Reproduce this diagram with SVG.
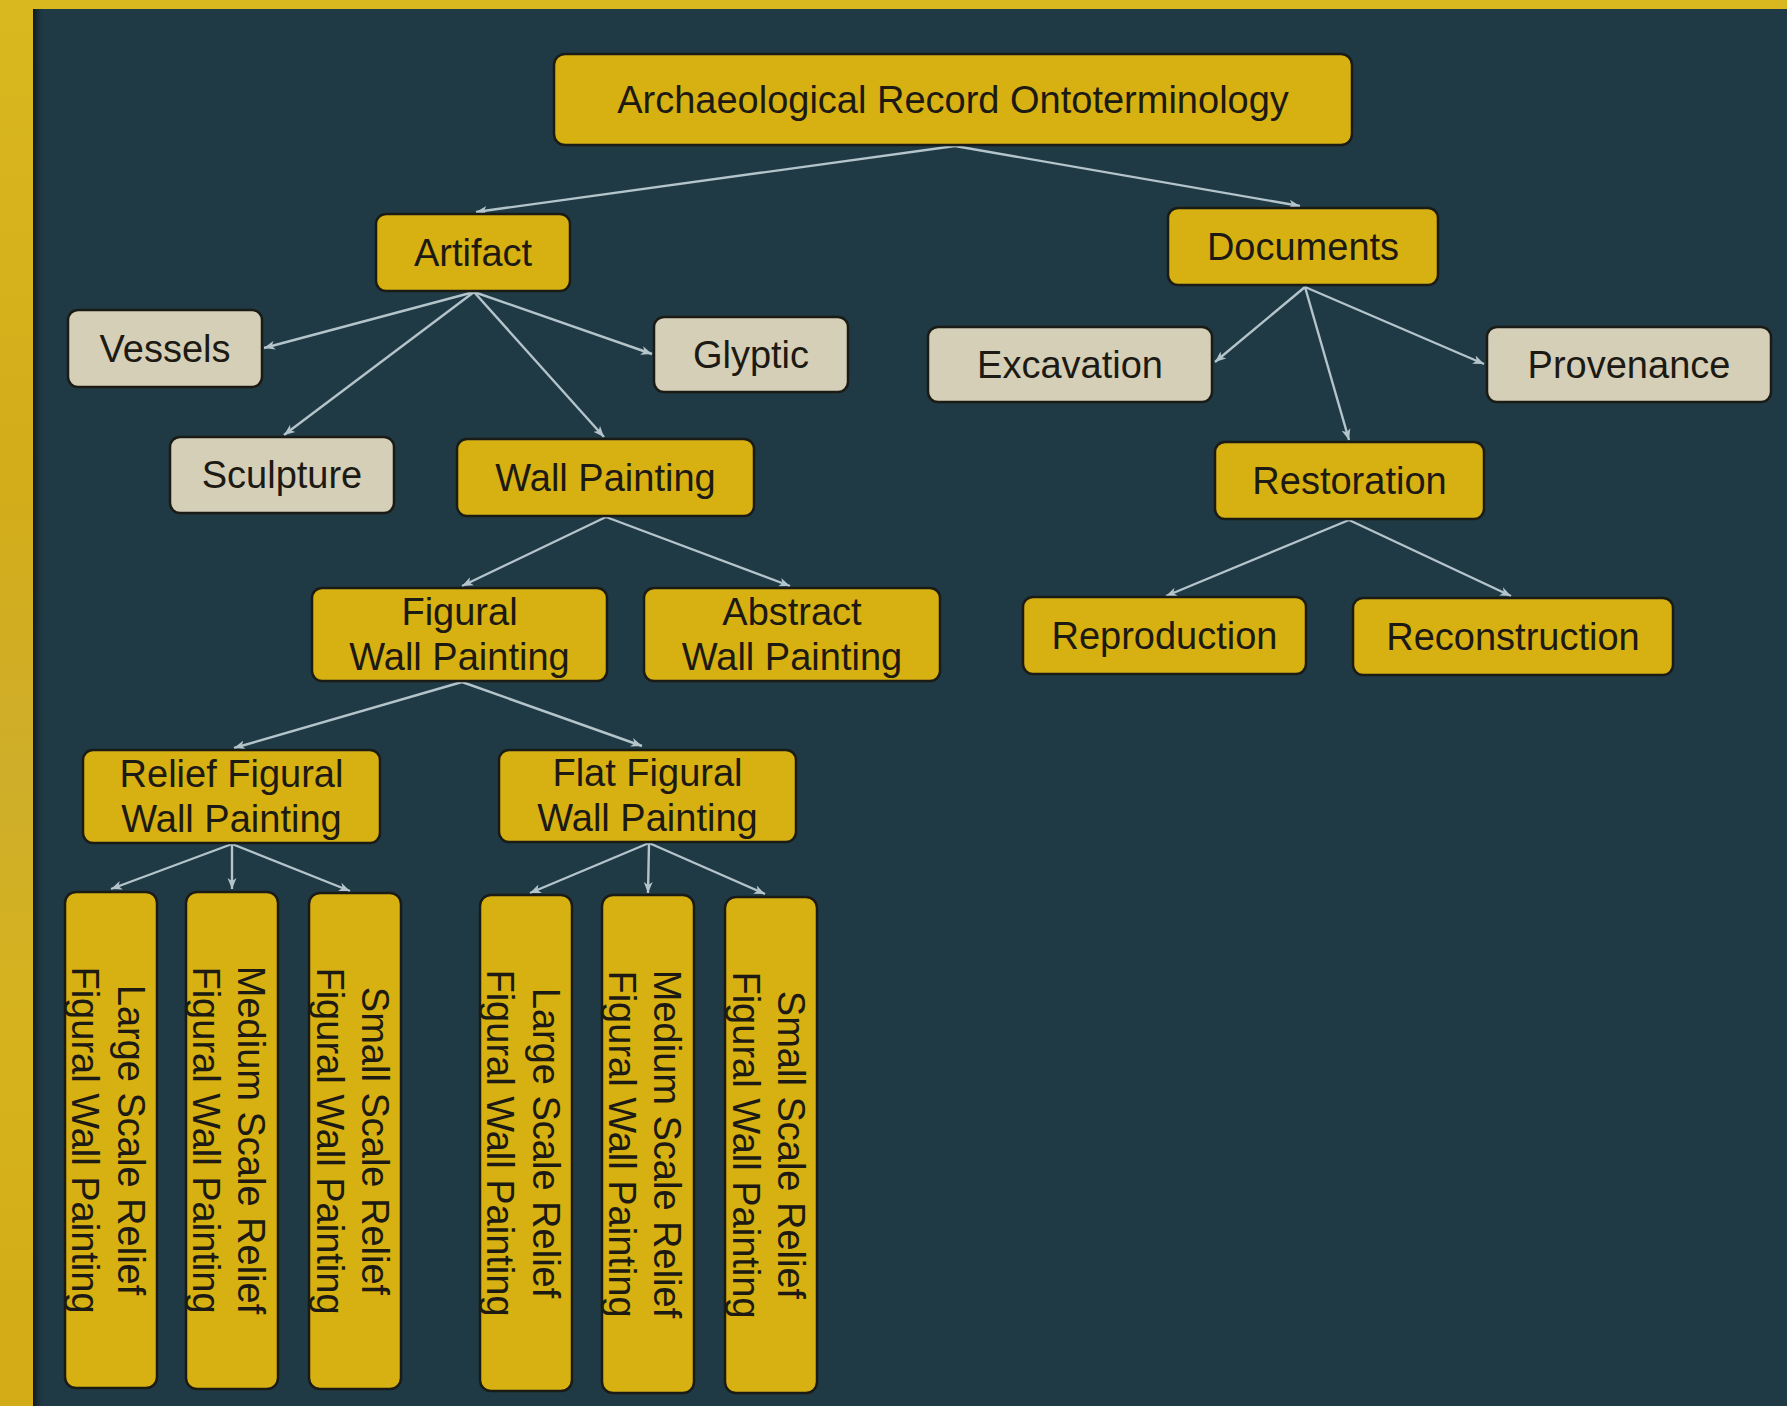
<svg xmlns="http://www.w3.org/2000/svg" width="1787" height="1406" viewBox="0 0 1787 1406">
<defs>
<style>
.n rect{stroke:#1b1b16;stroke-width:2.5}
.g rect{fill:#d7b012}
.b rect{fill:#d5cfb8}
text{font-family:"Liberation Sans",Arial,sans-serif;font-size:38px;fill:#1c1a12;text-anchor:middle}
#connectors line{stroke:#b4c4cb;stroke-width:2.4;marker-end:url(#ah)}
</style>
<linearGradient id="gold" x1="0" y1="0" x2="0" y2="1">
<stop offset="0" stop-color="#d9b81f"/>
<stop offset="0.35" stop-color="#d3ad1a"/>
<stop offset="0.55" stop-color="#cfae2a"/>
<stop offset="0.75" stop-color="#d6b31c"/>
<stop offset="1" stop-color="#d2ab16"/>
</linearGradient>
<linearGradient id="shade" x1="0" y1="0" x2="1" y2="0">
<stop offset="0" stop-color="#10181c"/>
<stop offset="1" stop-color="#1f3a45" stop-opacity="0"/>
</linearGradient>
<marker id="ah" markerUnits="userSpaceOnUse" markerWidth="12" markerHeight="10" refX="11" refY="5" orient="auto">
<path d="M0,0.5 L11,5 L0,9.5 L3,5 z" fill="#b4c4cb"/>
</marker>
</defs>
<rect x="0" y="0" width="1787" height="1406" fill="url(#gold)"/>
<rect x="33" y="9" width="1754" height="1397" fill="#1f3a45"/>
<rect x="33" y="9" width="12" height="1397" fill="url(#shade)"/>

<g id="connectors">
<line x1="955" y1="146" x2="476" y2="212"/>
<line x1="955" y1="146" x2="1300" y2="206"/>
<line x1="474" y1="292" x2="264" y2="348"/>
<line x1="474" y1="292" x2="284" y2="435"/>
<line x1="474" y1="292" x2="604" y2="437"/>
<line x1="474" y1="292" x2="652" y2="354"/>
<line x1="1305" y1="287" x2="1215" y2="362"/>
<line x1="1305" y1="287" x2="1349" y2="440"/>
<line x1="1305" y1="287" x2="1484" y2="364"/>
<line x1="606" y1="517" x2="462" y2="586"/>
<line x1="606" y1="517" x2="790" y2="586"/>
<line x1="1349" y1="520" x2="1166" y2="596"/>
<line x1="1349" y1="520" x2="1511" y2="596"/>
<line x1="462" y1="682" x2="234" y2="748"/>
<line x1="462" y1="682" x2="642" y2="746"/>
<line x1="232" y1="844" x2="111" y2="889"/>
<line x1="232" y1="844" x2="232" y2="889"/>
<line x1="232" y1="844" x2="350" y2="891"/>
<line x1="649" y1="843" x2="530" y2="893"/>
<line x1="649" y1="843" x2="648" y2="893"/>
<line x1="649" y1="843" x2="765" y2="894"/>
</g>

<g id="root" class="n g"><rect x="554" y="54" width="798" height="91" rx="11"/><text x="953" y="113">Archaeological Record Ontoterminology</text></g>
<g id="artifact" class="n g"><rect x="376" y="214" width="194" height="77" rx="10"/><text x="473" y="266">Artifact</text></g>
<g id="documents" class="n g"><rect x="1168" y="208" width="270" height="77" rx="10"/><text x="1303" y="260">Documents</text></g>
<g id="vessels" class="n b"><rect x="68" y="310" width="194" height="77" rx="10"/><text x="165" y="362">Vessels</text></g>
<g id="glyptic" class="n b"><rect x="654" y="317" width="194" height="75" rx="10"/><text x="751" y="368">Glyptic</text></g>
<g id="excavation" class="n b"><rect x="928" y="327" width="284" height="75" rx="10"/><text x="1070" y="378">Excavation</text></g>
<g id="provenance" class="n b"><rect x="1487" y="327" width="284" height="75" rx="10"/><text x="1629" y="378">Provenance</text></g>
<g id="sculpture" class="n b"><rect x="170" y="437" width="224" height="76" rx="10"/><text x="282" y="488">Sculpture</text></g>
<g id="wallpainting" class="n g"><rect x="457" y="439" width="297" height="77" rx="10"/><text x="605.5" y="491">Wall Painting</text></g>
<g id="restoration" class="n g"><rect x="1215" y="442" width="269" height="77" rx="10"/><text x="1349.5" y="494">Restoration</text></g>
<g id="figural" class="n g"><rect x="312" y="588" width="295" height="93" rx="10"/><text x="459.5" y="625">Figural</text><text x="459.5" y="670">Wall Painting</text></g>
<g id="abstract" class="n g"><rect x="644" y="588" width="296" height="93" rx="10"/><text x="792" y="625">Abstract</text><text x="792" y="670">Wall Painting</text></g>
<g id="reproduction" class="n g"><rect x="1023" y="597" width="283" height="77" rx="10"/><text x="1164.5" y="649">Reproduction</text></g>
<g id="reconstruction" class="n g"><rect x="1353" y="598" width="320" height="77" rx="10"/><text x="1513" y="650">Reconstruction</text></g>
<g id="relief" class="n g"><rect x="83" y="750" width="297" height="93" rx="10"/><text x="231.5" y="787">Relief Figural</text><text x="231.5" y="832">Wall Painting</text></g>
<g id="flat" class="n g"><rect x="499" y="750" width="297" height="92" rx="10"/><text x="647.5" y="786">Flat Figural</text><text x="647.5" y="831">Wall Painting</text></g>

<g id="relief-large" class="n g"><rect x="65" y="892" width="92" height="496" rx="11"/><g transform="translate(111 1140) rotate(90)"><text x="0" y="-7">Large Scale Relief</text><text x="0" y="39">Figural Wall Painting</text></g></g>
<g id="relief-medium" class="n g"><rect x="186" y="892" width="92" height="497" rx="11"/><g transform="translate(232 1140) rotate(90)"><text x="0" y="-6">Medium Scale Relief</text><text x="0" y="39">Figural Wall Painting</text></g></g>
<g id="relief-small" class="n g"><rect x="309" y="893" width="92" height="496" rx="11"/><g transform="translate(355 1141) rotate(90)"><text x="0" y="-7">Small Scale Relief</text><text x="0" y="38">Figural Wall Painting</text></g></g>
<g id="flat-large" class="n g"><rect x="480" y="895" width="92" height="496" rx="11"/><g transform="translate(526 1143) rotate(90)"><text x="0" y="-7">Large Scale Relief</text><text x="0" y="39">Figural Wall Painting</text></g></g>
<g id="flat-medium" class="n g"><rect x="602" y="895" width="92" height="498" rx="11"/><g transform="translate(648 1144) rotate(90)"><text x="0" y="-6">Medium Scale Relief</text><text x="0" y="39">Figural Wall Painting</text></g></g>
<g id="flat-small" class="n g"><rect x="725" y="897" width="92" height="496" rx="11"/><g transform="translate(771 1145) rotate(90)"><text x="0" y="-7">Small Scale Relief</text><text x="0" y="38">Figural Wall Painting</text></g></g>
</svg>
